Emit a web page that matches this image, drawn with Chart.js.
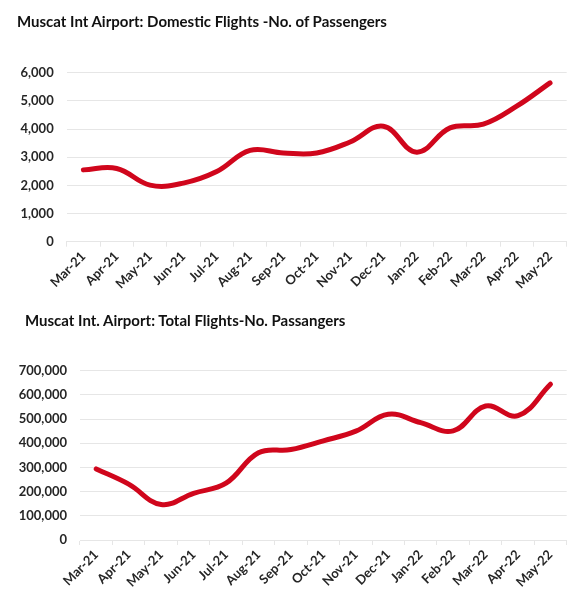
<!DOCTYPE html>
<html>
<head>
<meta charset="utf-8">
<script src="https://cdn.jsdelivr.net/npm/chart.js@4.4.1/dist/chart.umd.min.js"></script>
<style>
  html, body { margin: 0; padding: 0; background: #fff; }
  .box { position: absolute; left: 0; width: 586px; height: 300px; }
  .title { position: absolute; font-family: Lato, 'Open Sans', sans-serif; font-weight: bold;
           font-size: 15px; line-height: 18px; color: #111; white-space: nowrap; }
</style>
</head>
<body>
<div class="box" style="top:0"><canvas id="domChart" width="586" height="300"></canvas></div>
<div class="box" style="top:300px"><canvas id="totChart" width="586" height="300"></canvas></div>
<div class="title" id="domTitle" style="left:17px; top:12px"></div>
<div class="title" id="totTitle" style="left:25px; top:311px"></div>
<script>
// months shown on both charts
const months = ["Mar-21", "Apr-21", "May-21", "Jun-21", "Jul-21", "Aug-21", "Sep-21", "Oct-21",
                "Nov-21", "Dec-21", "Jan-22", "Feb-22", "Mar-22", "Apr-22", "May-22"];

// domestic flights - passengers
const domestic = [2550, 2600, 2010, 2080, 2490, 3240, 3150, 3150, 3540, 4100, 3180, 4040, 4170, 4810, 5640];

// total flights - passengers
const total = [294000, 231000, 147000, 193000, 235000, 361000, 374000, 410000, 450000, 520000,
               485000, 451000, 554000, 514000, 644000];

const domTitle = "Muscat Int Airport: Domestic Flights -No. of Passengers";
const totTitle = "Muscat Int. Airport: Total Flights-No. Passangers";

document.getElementById('domTitle').textContent = domTitle;
document.getElementById('totTitle').textContent = totTitle;

const RED = "#D0061C";
const GRID = "#E6E6E6";
const FONT = "Lato, 'Open Sans', sans-serif";

function makeConfig(values, max, step, opts) {
  return {
    type: 'line',
    data: {
      labels: months,
      datasets: [{
        data: values,
        borderColor: RED,
        borderWidth: 5,
        borderCapStyle: 'round',
        borderJoinStyle: 'round',
        tension: 0.4,
        pointRadius: 0,
        fill: false
      }]
    },
    options: {
      responsive: false,
      animation: false,
      layout: { padding: { left: 0, right: 19.3, top: opts.top, bottom: 0 } },
      plugins: {
        legend: { display: false },
        tooltip: { enabled: false }
      },
      scales: {
        x: {
          offset: true,
          grid: { drawOnChartArea: false, drawTicks: true, tickLength: 5, color: GRID, offset: true },
          border: { display: true, color: GRID, width: 1 },
          ticks: {
            color: '#262626',
            font: { family: FONT, size: 13, weight: 'bold' },
            maxRotation: 45, minRotation: 45, autoSkip: false, padding: 2
          },
          afterFit: s => { s.height = opts.xHeight; }
        },
        y: {
          min: 0, max: max,
          grid: { color: GRID, drawTicks: false, lineWidth: 1 },
          border: { display: false },
          ticks: {
            stepSize: step,
            color: '#262626',
            padding: 13,
            font: { family: FONT, size: 13, weight: 'bold' },
            callback: v => v.toLocaleString('en-US')
          },
          afterFit: s => { s.width = opts.yWidth; }
        }
      }
    }
  };
}

new Chart(document.getElementById('domChart'),
  makeConfig(domestic, 6000, 1000, { top: 72.7, xHeight: 58.3, yWidth: 66.7 }));
new Chart(document.getElementById('totChart'),
  makeConfig(total, 700000, 100000, { top: 70.7, xHeight: 60, yWidth: 80 }));
</script>
</body>
</html>
